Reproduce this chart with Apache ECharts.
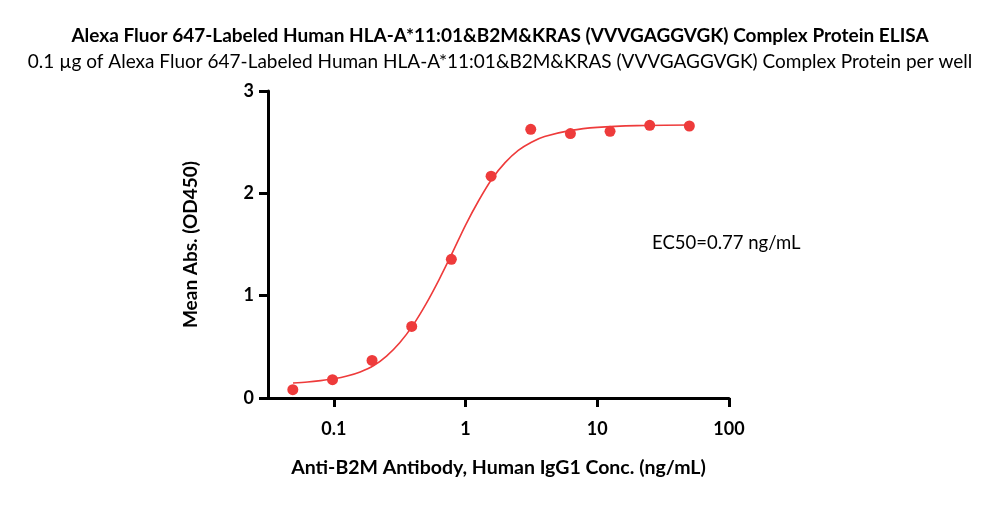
<!DOCTYPE html>
<html>
<head>
<meta charset="utf-8">
<script src="https://cdn.jsdelivr.net/npm/echarts@6/dist/echarts.min.js"></script>
<style>html,body{margin:0;padding:0;background:#fff}#c{width:1000px;height:530px}</style>
</head>
<body>
<div id="c"></div>
<script>
// Concentrations (ng/mL) and mean absorbance
const concentrations = [0.0488, 0.0977, 0.195, 0.39, 0.78, 1.5625, 3.125, 6.25, 12.5, 25, 50];
const meanAbs = [0.081, 0.179, 0.367, 0.699, 1.355, 2.168, 2.626, 2.584, 2.606, 2.665, 2.658];
// Fitted curve (log10 concentration, absorbance)
const curveLog10Conc = [-1.31, -1.2, -1.1, -1.0, -0.9, -0.8, -0.7, -0.6, -0.5, -0.4, -0.3, -0.2, -0.1, 0.0, 0.1, 0.2, 0.3, 0.4, 0.5, 0.6, 0.8, 1.0, 1.3, 1.7];
const curveAbs = [0.146, 0.156, 0.17, 0.188, 0.215, 0.255, 0.315, 0.41, 0.54, 0.71, 0.92, 1.16, 1.42, 1.69, 1.93, 2.14, 2.30, 2.42, 2.50, 2.555, 2.615, 2.645, 2.662, 2.668];
const xTickValues = [0.1, 1, 10, 100];
const xTickLabels = ['0.1', '1', '10', '100'];
const yTickLabels = ['0', '1', '2', '3'];

const titleText = 'Alexa Fluor 647-Labeled Human HLA-A*11:01&B2M&KRAS (VVVGAGGVGK) Complex Protein ELISA';
const subtitleText = '0.1 µg of Alexa Fluor 647-Labeled Human HLA-A*11:01&B2M&KRAS (VVVGAGGVGK) Complex Protein per well';
const ec50Text = 'EC50=0.77 ng/mL';
const xName = 'Anti-B2M Antibody, Human IgG1 Conc. (ng/mL)';
const yName = 'Mean Abs. (OD450)';

const FONT = "Lato, 'Open Sans', sans-serif";
const RED = '#ee3b3b';
const lg = v => Math.log10(v);
const xTickLog = xTickValues.map(lg);

const chart = echarts.init(document.getElementById('c'), null, {renderer: 'canvas'});
chart.setOption({
  animation: false,
  backgroundColor: '#fff',
  title: [
    {text: titleText, left: 'center', top: 21, textStyle: {fontFamily: FONT, fontWeight: 'bold', fontSize: 19, color: '#000'}},
    {text: subtitleText, left: 'center', top: 47, textStyle: {fontFamily: FONT, fontWeight: 'normal', fontSize: 19, color: '#000'}},
    {text: ec50Text, left: 647, top: 229, textStyle: {fontFamily: FONT, fontWeight: 'normal', fontSize: 18.5, color: '#000'}}
  ],
  grid: {left: 268, right: 271, top: 91, bottom: 132, containLabel: false},
  xAxis: {
    type: 'value', min: -1.5, max: 2,
    name: xName, nameLocation: 'middle', nameGap: 60,
    nameTextStyle: {fontFamily: FONT, fontWeight: 'bold', fontSize: 19.5, color: '#000'},
    axisLine: {onZero: false, lineStyle: {color: '#000', width: 3}},
    axisTick: {show: true, length: 9, lineStyle: {color: '#000', width: 3}, customValues: xTickLog},
    axisLabel: {customValues: xTickLog, margin: 22, fontFamily: FONT, fontWeight: 'bold', fontSize: 18, color: '#000',
      formatter: v => xTickLabels[xTickLog.findIndex(t => Math.abs(t - v) < 1e-6)]},
    splitLine: {show: false}
  },
  yAxis: {
    type: 'value', min: 0, max: 3, interval: 1,
    name: yName, nameLocation: 'middle', nameGap: 68, nameRotate: 90,
    nameTextStyle: {fontFamily: FONT, fontWeight: 'bold', fontSize: 19, color: '#000'},
    axisLine: {show: true, onZero: false, lineStyle: {color: '#000', width: 3}},
    axisTick: {show: true, length: 9, lineStyle: {color: '#000', width: 3}},
    axisLabel: {margin: 14, fontFamily: FONT, fontWeight: 'bold', fontSize: 18, color: '#000',
      formatter: v => yTickLabels[Math.round(v)]},
    splitLine: {show: false}
  },
  series: [
    {type: 'line', data: curveLog10Conc.map((c, i) => [c, curveAbs[i]]), smooth: 0.3, showSymbol: false,
      lineStyle: {color: RED, width: 1.6}, z: 2},
    {type: 'scatter', data: concentrations.map((c, i) => [lg(c), meanAbs[i]]), symbolSize: 11,
      itemStyle: {color: RED, opacity: 1}, z: 3}
  ]
});
</script>
</body>
</html>
